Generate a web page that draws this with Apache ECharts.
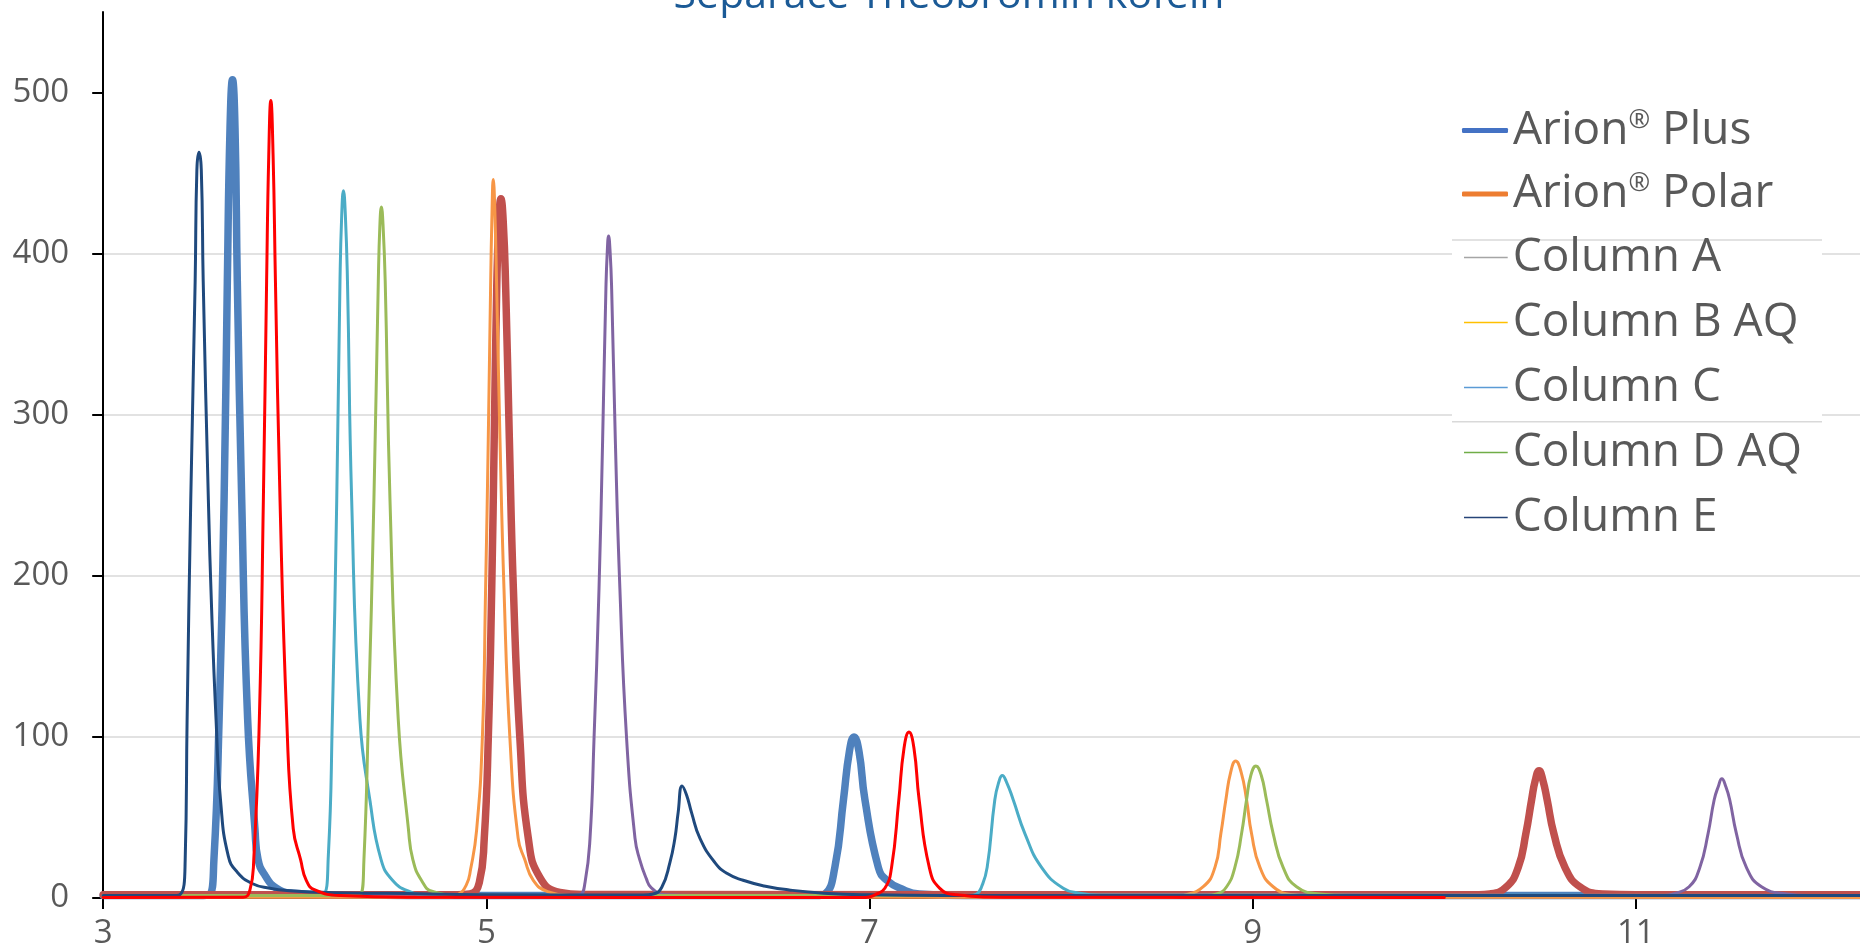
<!DOCTYPE html>
<html><head><meta charset="utf-8">
<script src="https://cdn.jsdelivr.net/npm/echarts@6/dist/echarts.min.js"></script>
<style>html,body{margin:0;padding:0;background:#fff}#c{width:1860px;height:949px}</style>
</head><body><div id="c"></div>
<script>
// ---- data ----
const titleText = 'Separace Theobromin kofein';
const xTicks = [3, 5, 7, 9, 11, 13];
const yTicks = [0, 100, 200, 300, 400, 500];
const seriesNames = ['Arion® Plus', 'Arion® Polar', 'Column A', 'Column B AQ', 'Column C', 'Column D AQ', 'Column E', 'Column F'];

const arionPlus = [[3,1.5],[3.5,1.5],[3.553,2],[3.578,24],[3.605,111],[3.631,247],[3.648,383],[3.662,478],[3.675,508],[3.688,478],[3.7,383],[3.723,247],[3.754,111],[3.792,43],[3.808,24],[3.845,14],[3.906,6],[3.99,3],[4.2,2],[5,1.5],[6.72,1.5],[6.767,2.5],[6.819,19],[6.864,61],[6.895,91],[6.919,100],[6.945,91],[6.976,61],[7.046,19],[7.09,11],[7.18,5],[7.26,2.5],[7.5,1.5],[13,1.5]];
const arionPolar = [[3,2],[4.85,2],[4.914,2.5],[4.963,9.6],[4.989,37],[5.01,99],[5.028,192],[5.041,285],[5.054,378],[5.065,420],[5.076,434],[5.088,420],[5.101,378],[5.12,285],[5.141,192],[5.175,99],[5.219,37],[5.28,12.7],[5.384,3.4],[5.5,2.2],[10.18,2],[10.238,2.5],[10.325,7],[10.386,19],[10.426,40],[10.456,61],[10.475,73],[10.495,79],[10.515,73],[10.537,61],[10.572,40],[10.63,19],[10.708,7],[10.829,2.5],[11,2],[13,2]];
const columnA = [[3,1.5],[5.45,1.5],[5.489,2],[5.515,9.6],[5.541,37],[5.562,99],[5.588,192],[5.607,285],[5.624,378],[5.631,401],[5.638,411],[5.646,401],[5.654,378],[5.673,285],[5.697,192],[5.732,99],[5.776,37],[5.8,24],[5.835,12],[5.86,6.5],[5.93,2],[6.1,1.5],[11.15,1.5],[11.195,2.5],[11.278,7],[11.334,19],[11.377,40],[11.409,61],[11.43,69],[11.449,74],[11.47,69],[11.49,61],[11.525,40],[11.577,19],[11.656,7],[11.787,2.5],[11.9,1.5],[13,1.5]];
const columnBAQ = [[3,0.5],[4.8,0.5],[4.85,2],[4.895,8],[4.918,18],[4.949,42],[4.979,99],[4.996,192],[5.01,285],[5.022,378],[5.03,428],[5.036,446],[5.044,428],[5.054,378],[5.071,285],[5.092,192],[5.123,99],[5.166,37],[5.2,24],[5.245,11],[5.32,4],[5.45,1.5],[5.7,0.5],[8.58,0.5],[8.637,1.5],[8.742,7],[8.803,19],[8.834,40],[8.86,61],[8.885,78],[8.911,85],[8.94,78],[8.968,61],[8.994,40],[9.038,19],[9.107,7],[9.211,2],[9.4,0.5],[13,0.3]];
const columnC = [[3,1.5],[4.1,1.5],[4.149,2],[4.175,26],[4.196,111],[4.219,247],[4.236,383],[4.245,424],[4.254,439],[4.264,424],[4.275,383],[4.297,247],[4.34,111],[4.393,60],[4.45,24],[4.51,11],[4.6,4],[4.69,2],[5.0,1.5],[7.52,1.5],[7.559,2.5],[7.585,7],[7.614,19],[7.654,61],[7.675,72],[7.693,76],[7.715,72],[7.75,61],[7.811,40],[7.898,19],[8.011,6],[8.098,3],[8.2,1.8],[13,1.5]];
const columnDAQ = [[3,1.5],[4.29,1.5],[4.342,2],[4.361,24],[4.384,111],[4.413,247],[4.436,383],[4.444,417],[4.452,429],[4.461,417],[4.472,383],[4.497,247],[4.54,111],[4.593,43],[4.616,24],[4.661,11],[4.72,4],[4.85,2],[5.2,1.5],[8.76,1.5],[8.812,2.5],[8.864,7],[8.907,19],[8.942,40],[8.968,61],[8.99,76],[9.017,82],[9.045,76],[9.072,61],[9.107,40],[9.159,19],[9.229,7],[9.351,2.5],[9.5,1.5],[13,1.5]];
const columnE = [[3,1.5],[3.36,1.5],[3.4,2],[3.428,24],[3.438,111],[3.457,247],[3.48,383],[3.489,452],[3.5,463],[3.512,452],[3.522,383],[3.549,247],[3.566,179],[3.589,111],[3.613,60],[3.653,26],[3.7,16],[3.777,9],[3.87,6],[3.973,4.5],[4.2,3.3],[4.48,2.9],[5.0,2],[5.82,1.8],[5.871,2.5],[5.915,6.5],[5.958,22],[5.984,37],[6.001,53],[6.022,69.6],[6.045,64],[6.071,53],[6.115,37],[6.193,22],[6.26,15],[6.34,11],[6.45,7.5],[6.58,5],[6.76,3],[7.0,2],[7.4,1.6],[13,1.5]];
const columnF = [[3,0.3],[3.73,0.5],[3.766,5],[3.786,24],[3.815,111],[3.836,247],[3.853,383],[3.864,460],[3.875,495],[3.887,460],[3.899,383],[3.923,247],[3.958,111],[3.992,43],[4.03,24],[4.06,11],[4.105,5],[4.24,1.5],[4.6,0.5],[6.98,0.3],[7.028,2],[7.08,6],[7.115,19],[7.153,61],[7.18,93],[7.206,103],[7.232,93],[7.259,61],[7.312,19],[7.367,6],[7.455,2],[7.7,0.5],[10,0.3]];

// ---- styles ----
const lineColors = ['#4F81BD', '#C0504D', '#8064A2', '#F79646', '#4BACC6', '#9BBB59', '#1F497D', '#FF0000'];
const lineWidths = [7.5, 7.5, 3, 3, 3, 3, 3, 3];
const legendColors = ['#4472C4', '#ED7D31', '#A5A5A5', '#FFC000', '#5B9BD5', '#70AD47', '#264478'];
const seriesData = [arionPlus, arionPolar, columnA, columnBAQ, columnC, columnDAQ, columnE, columnF];

const chart = echarts.init(document.getElementById('c'), null, {renderer: 'canvas'});
const labelFont = {fontFamily: 'Open Sans', fontSize: 33, color: '#595959'};
const legendText = {
  fontFamily: 'Open Sans', fontSize: 46, color: '#595959',
  rich: {sup: {fontFamily: 'Open Sans', fontSize: 26, color: '#595959', verticalAlign: 'top'}}
};
const fmt = n => n.replace('®', '{sup|®}');

chart.setOption({
  animation: false,
  backgroundColor: '#ffffff',
  title: {
    text: titleText, left: 949, top: -24, textAlign: 'center', padding: 0,
    textStyle: {fontFamily: 'Open Sans', fontSize: 41, fontWeight: 'normal', color: '#1B5A96'}
  },
  grid: {left: 103.2, right: -159, top: 12, bottom: 51, containLabel: false, outerBoundsMode: 'none'},
  xAxis: {
    type: 'value', min: 3, max: 13, interval: 1,
    axisLine: {show: true, onZero: false, lineStyle: {color: '#000', width: 2}},
    axisTick: {show: true, inside: false, length: 11, lineStyle: {color: '#000', width: 2}, customValues: xTicks},
    axisLabel: Object.assign({margin: 19, customValues: xTicks}, labelFont),
    splitLine: {show: false}
  },
  yAxis: {
    type: 'value', min: 0, max: 550, interval: 100,
    axisLine: {show: true, lineStyle: {color: '#000', width: 2}},
    axisTick: {show: true, inside: false, length: 11, lineStyle: {color: '#000', width: 2}, customValues: yTicks},
    axisLabel: Object.assign({margin: 34, customValues: yTicks}, labelFont),
    splitLine: {show: true, showMaxLine: false, lineStyle: {color: '#D9D9D9', width: 1.5}}
  },
  legend: [
    {
      data: [0, 1].map(i => ({name: seriesNames[i], itemStyle: {color: legendColors[i], borderWidth: 0}})),
      orient: 'vertical', left: 1462, top: 107.5, padding: 0,
      itemWidth: 46, itemHeight: 5, itemGap: 17.5, icon: 'roundRect',
      textStyle: legendText, formatter: fmt, selectedMode: false, z: 6
    },
    {
      data: [2, 3, 4, 5, 6].map(i => ({name: seriesNames[i], itemStyle: {color: legendColors[i], borderWidth: 0}})),
      orient: 'vertical', left: 1464, top: 234.5, padding: 0,
      itemWidth: 43.7, itemHeight: 1.6, itemGap: 19, icon: 'rect',
      textStyle: legendText, formatter: fmt, selectedMode: false, z: 6
    }
  ],
  graphic: {
    elements: [
      {type: 'rect', z: 3, silent: true, shape: {x: 1452, y: 234, width: 370, height: 200}, style: {fill: '#ffffff'}},
      {type: 'line', z: 4, silent: true, shape: {x1: 1452, y1: 240, x2: 1822, y2: 240}, style: {stroke: '#D9D9D9', lineWidth: 1.5}},
      {type: 'line', z: 4, silent: true, shape: {x1: 1452, y1: 421.7, x2: 1822, y2: 421.7}, style: {stroke: '#D9D9D9', lineWidth: 1.5}}
    ]
  },
  series: seriesData.map((d, i) => ({
    name: seriesNames[i], type: 'line', data: d, symbol: 'none', showSymbol: false,
    smooth: 0.5, silent: true, clip: true,
    lineStyle: {color: lineColors[i], width: lineWidths[i], join: 'round', cap: 'round'},
    itemStyle: {color: lineColors[i]},
    emphasis: {disabled: true}
  }))
});
</script></body></html>
